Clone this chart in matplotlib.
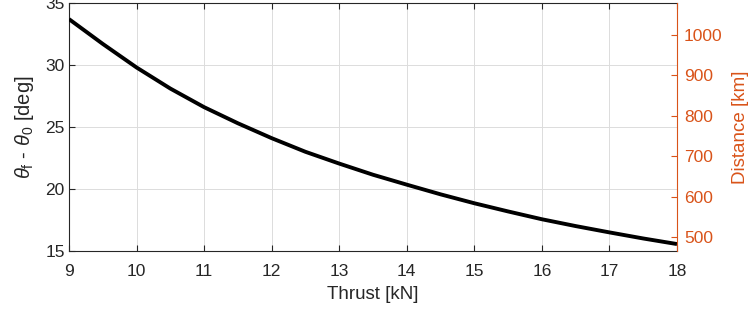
import matplotlib
matplotlib.use("Agg")
import matplotlib.pyplot as plt

plt.rcParams['font.family'] = ['Liberation Sans', 'DejaVu Sans']
plt.rcParams['mathtext.fontset'] = 'custom'
plt.rcParams['mathtext.rm'] = 'Liberation Sans'
plt.rcParams['mathtext.it'] = 'Liberation Sans:italic'

thrust = [9, 9.5, 10, 10.5, 11, 11.5, 12, 12.5, 13, 13.5, 14, 14.5, 15, 15.5, 16, 16.5, 17, 17.5, 18]
dtheta = [33.7, 31.7, 29.8, 28.1, 26.6, 25.3, 24.1, 23.0, 22.05, 21.15, 20.35, 19.57,
          18.85, 18.19, 17.56, 17.01, 16.5, 16.01, 15.56]
xticks = [9, 10, 11, 12, 13, 14, 15, 16, 17, 18]
yticks_left = [15, 20, 25, 30, 35]
yticks_right = [500, 600, 700, 800, 900, 1000]

orange = '#D95319'
dark = '#262626'

fig = plt.figure(figsize=(7.51, 3.15), dpi=100)
ax = fig.add_axes([69/751, 1 - 251/315, (677-69)/751, (251-3)/315])
ax.plot(thrust, dtheta, color='black', lw=2.8, solid_capstyle='butt',
        solid_joinstyle='round', zorder=3)
ax.set_xlim(9, 18)
ax.set_ylim(15, 35)
ax.set_xticks(xticks)
ax.set_yticks(yticks_left)
ax.grid(True, color='#dcdcdc', lw=0.7)
ax.tick_params(axis='both', direction='in', labelsize=12.5, colors=dark, length=4, width=0.8)
ax.tick_params(axis='x', top=True, pad=9.5)
ax.tick_params(axis='y', pad=3)
for s in ['left', 'bottom', 'top']:
    ax.spines[s].set_color(dark)
    ax.spines[s].set_linewidth(0.8)
ax.spines['right'].set_visible(False)
ax.set_xlabel('Thrust [kN]', fontsize=13.5, color=dark, labelpad=5)
ax.set_ylabel(r'$\mathit{\theta}_{\mathrm{f}}$ - $\mathit{\theta}_{0}$ [deg]', fontsize=14.5, color=dark, labelpad=7)

ax2 = ax.twinx()
ax2.set_ylim(466, 1078)
ax2.set_yticks(yticks_right)
ax2.tick_params(axis='y', direction='in', labelsize=12.5, colors=orange, length=4, width=0.8, pad=5)
for s in ['left', 'bottom', 'top']:
    ax2.spines[s].set_visible(False)
ax2.spines['right'].set_color(orange)
ax2.spines['right'].set_linewidth(0.8)
ax2.set_ylabel('Distance [km]', fontsize=13.5, color=orange, labelpad=7)

fig.savefig('out.png', dpi=100)
